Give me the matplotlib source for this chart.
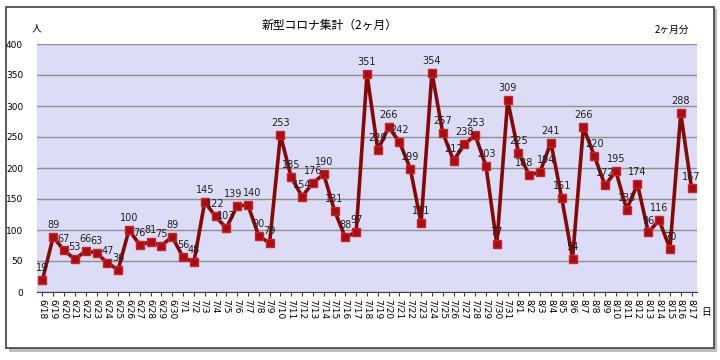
import numpy as np
import matplotlib
matplotlib.use("Agg")
import matplotlib.pyplot as plt
from matplotlib.patches import Rectangle

plt.rcParams['font.family'] = ['Noto Sans CJK JP', 'DejaVu Sans']

# data
dates = (["6/%d" % d for d in range(18, 31)]
         + ["7/%d" % d for d in range(1, 32)]
         + ["8/%d" % d for d in range(1, 18)])
cases = [19, 89, 67, 53, 66, 63, 47, 36, 100, 76, 81, 75, 89,
         56, 48, 145, 122, 103, 139, 140, 90, 79, 253, 185, 154, 176, 190,
         131, 88, 97, 351, 229, 266, 242, 199, 111, 354, 257, 212, 238, 253,
         203, 77, 309,
         225, 188, 194, 241, 151, 54, 266, 220, 172, 195, 133, 174, 96, 116,
         70, 288, 167]
yticks = [0, 50, 100, 150, 200, 250, 300, 350, 400]

fig = plt.figure(figsize=(7.2, 3.6), dpi=100)

# outer frame with shadow
fig.patches.append(Rectangle((9 / 720, 1 - 352 / 360), 708 / 720, 343 / 360,
                             transform=fig.transFigure, facecolor='#bdbdbd',
                             edgecolor='none', zorder=-3))
fig.patches.append(Rectangle((6 / 720, 1 - 348 / 360), 708 / 720, 341 / 360,
                             transform=fig.transFigure, facecolor='white',
                             edgecolor='#404040', linewidth=1.2, zorder=-2))

ax = fig.add_axes([37 / 720, 68 / 360, 660 / 720, 248 / 360])
ax.set_facecolor('#dcdcf7')
x = np.arange(len(cases))
ax.plot(x, cases, color='#840a0a', linewidth=2.6, marker='s', markersize=6,
        markerfacecolor='#a30f14', markeredgecolor='#c8242a', zorder=3)

# small horizontal nudges (points) for crowded labels
nudge = {18: -3, 19: 3, 45: -4, 46: 4}
for xi, v in zip(x, cases):
    ax.annotate(str(v), (xi, v), xytext=(nudge.get(xi, 0), 5),
                textcoords='offset points', ha='center', va='bottom',
                fontsize=7, family='DejaVu Sans', color='#202020', zorder=4)

ax.set_xlim(-0.5, len(cases) - 0.5)
ax.set_ylim(0, 400)
ax.set_yticks(yticks)
ax.yaxis.grid(True, color='#8f8f8f', linewidth=1)
ax.set_axisbelow(True)
ax.set_xticks(x)
ax.set_xticklabels(dates, rotation=270, fontsize=6.5, family='DejaVu Sans')
ax.tick_params(axis='x', length=3, pad=2, color='#404040')
ax.tick_params(axis='y', length=0, labelsize=6.5, pad=10)
for lab in ax.get_yticklabels():
    lab.set_family('DejaVu Sans')
for s in ['top', 'right', 'left']:
    ax.spines[s].set_visible(False)
ax.spines['bottom'].set_color('#404040')

fig.text(330 / 720, 1 - 25 / 360, '新型コロナ集計（2ヶ月）', ha='center', va='center', fontsize=8.5)
fig.text(672 / 720, 1 - 30 / 360, '2ヶ月分', ha='center', va='center', fontsize=7)
fig.text(37 / 720, 1 - 28 / 360, '人', ha='center', va='center', fontsize=7)
fig.text(706 / 720, 1 - 312 / 360, '日', ha='center', va='center', fontsize=7)

fig.savefig('out.png', dpi=100)
